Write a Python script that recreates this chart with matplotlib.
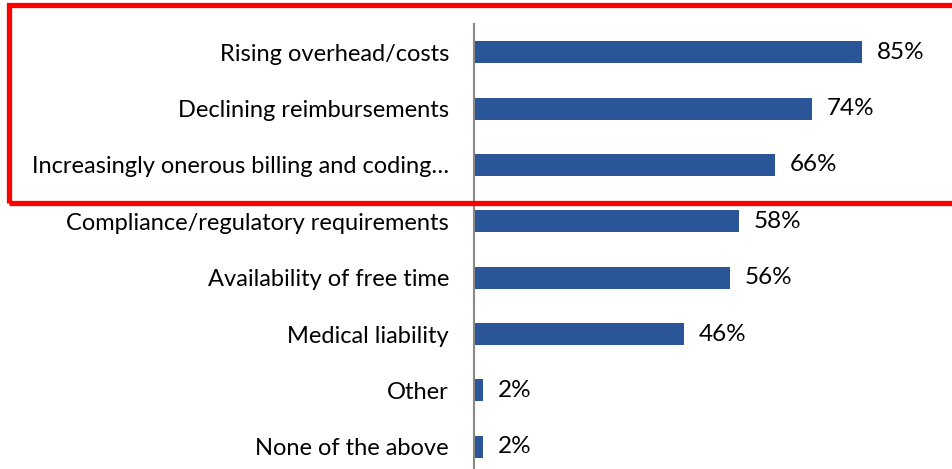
import matplotlib.pyplot as plt
from matplotlib.patches import Rectangle

categories = ['Rising overhead/costs', 'Declining reimbursements',
              'Increasingly onerous billing and coding…',
              'Compliance/regulatory requirements', 'Availability of free time',
              'Medical liability', 'Other', 'None of the above']
values = [85, 74, 66, 58, 56, 46, 2, 2]

plt.rcParams['font.family'] = ['Lato', 'DejaVu Sans']

fig = plt.figure(figsize=(9.52, 4.69), dpi=100)
ax = fig.add_axes([474 / 952, -6 / 469, 456.5 / 952, 451 / 469])

pos = list(range(len(categories)))
ax.barh(pos, values, height=0.39, color='#2a5599')
ax.set_ylim(len(categories) - 0.5, -0.5)
ax.set_xlim(0, 100)

for p, v in zip(pos, values):
    ax.text(v + 3.2, p, f'{v}%', va='center', ha='left', fontsize=17.5)

ax.set_yticks(pos)
ax.set_yticklabels(categories, fontsize=17)
ax.tick_params(axis='y', length=0, pad=18)
ax.set_xticks([])
for s in ['top', 'right', 'bottom']:
    ax.spines[s].set_visible(False)
ax.spines['left'].set_color('#888888')
ax.spines['left'].set_linewidth(1.5)

fig.add_artist(Rectangle((9 / 952, (469 - 203) / 469), 1.0, 198 / 469,
                         transform=fig.transFigure, fill=False,
                         edgecolor='#ff0000', linewidth=3.8, clip_on=False))

fig.savefig('out.png', dpi=100)
